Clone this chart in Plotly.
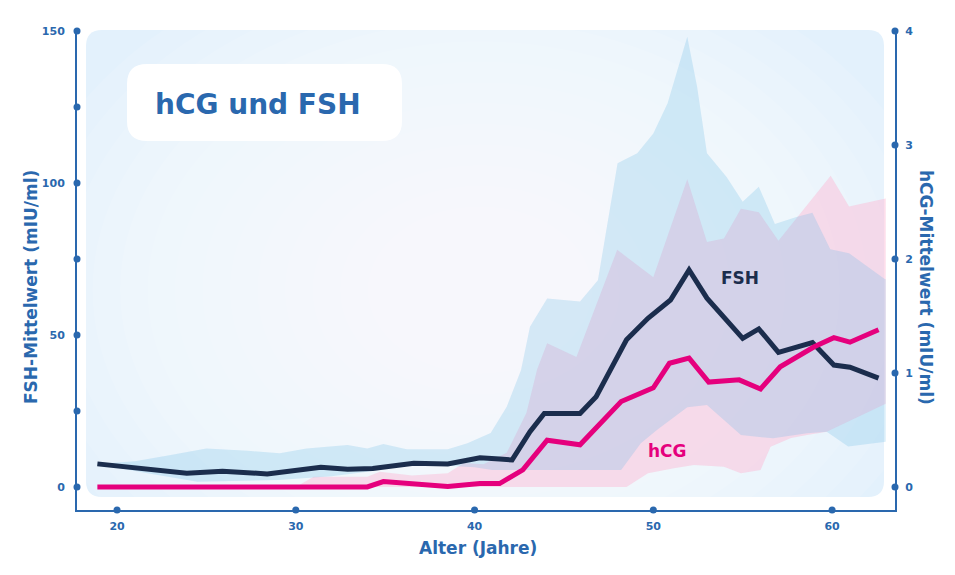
import plotly.graph_objects as go

# ---------------- data ----------------
FSH_AGE = [18.9, 21.5, 23.9, 25.9, 28.4, 31.4, 32.9, 34.3, 36.6, 38.5, 40.3, 41.4, 42.1,
           43.1, 43.9, 45.9, 46.8, 47.4, 48.5, 49.7, 50.96, 52.0, 53.0, 55.0, 55.9, 57.0,
           58.9, 60.1, 61.0, 62.6]
FSH_MEAN = [7.6, 6.0, 4.5, 5.2, 4.3, 6.5, 5.8, 6.1, 7.8, 7.6, 9.6, 9.2, 8.9,
            18.2, 24.2, 24.2, 29.7, 36.3, 48.4, 55.5, 61.5, 71.4, 62.1, 48.9, 52.0, 44.3,
            47.5, 40.1, 39.4, 35.8]

HCG_AGE = [18.9, 34.0, 34.9, 36.6, 38.5, 40.3, 41.4, 42.7, 44.06, 45.9, 48.2, 50.0, 50.9,
           52.0, 53.1, 54.8, 56.0, 57.1, 59.0, 60.1, 61.0, 62.6]
HCG_MEAN = [0.0, 0.0, 0.047, 0.03, 0.005, 0.03, 0.03, 0.15, 0.41, 0.37, 0.75, 0.87, 1.085,
            1.13, 0.92, 0.94, 0.86, 1.055, 1.23, 1.31, 1.27, 1.38]

FSH_UP_AGE = [18.9, 21, 23, 25, 27.3, 29.1, 30.6, 32.9, 34.0, 34.9, 36.2, 38.5, 39.6, 40.9,
              41.8, 42.6, 43.1, 44.06, 45.9, 46.9, 48.0, 49.1, 50.0, 50.8, 51.9, 52.45, 53.0,
              54.1, 55.0, 55.9, 56.8, 58.05, 58.9, 59.9, 60.95, 62.9, 63.0]
FSH_UP = [7.6, 8.5, 10.5, 12.7, 11.9, 11.1, 12.7, 13.8, 12.7, 14.1, 12.4, 12.4, 14.4, 17.8,
          26.4, 38.5, 52.7, 62.0, 61.0, 68.0, 106.5, 109.8, 116.3, 126.2, 148.1, 131.7, 109.8,
          102.0, 93.8, 98.8, 86.5, 88.9, 90.2, 78.2, 76.9, 68.6, 68.3]
FSH_LO_AGE = [18.9, 21.7, 24.5, 29, 32, 34, 36, 38.5, 40, 41, 48.2, 49.3, 50.2, 51.9, 53.0,
              54.9, 56.7, 58.6, 59.7, 60.9, 63.0]
FSH_LO = [7.6, 4.5, 1.7, 2.3, 3.5, 5.0, 7.0, 7.0, 6.5, 5.6, 5.6, 14.4, 18.75, 26.2, 27.0,
          17.1, 16.0, 17.7, 18.2, 13.3, 14.9]

HCG_UP_AGE = [30.0, 31.0, 34.0, 34.7, 36.5, 38.5, 39.4, 40.5, 41.8, 42.9, 43.5, 44.06, 45.7,
              47.98, 50.0, 51.9, 53.0, 53.95, 54.9, 55.9, 57.0, 59.92, 60.95, 63.0]
HCG_UP = [0.0, 0.09, 0.09, 0.134, 0.10, 0.12, 0.21, 0.20, 0.30, 0.65, 1.03, 1.26, 1.14,
          2.08, 1.84, 2.70, 2.15, 2.18, 2.44, 2.41, 2.16, 2.73, 2.46, 2.53]
HCG_LO_AGE = [30.0, 48.5, 49.7, 51.15, 52.27, 53.95, 54.9, 56.0, 56.56, 57.7, 58.6, 59.7, 63.0]
HCG_LO = [0.0, 0.0, 0.12, 0.164, 0.193, 0.178, 0.12, 0.15, 0.354, 0.43, 0.456, 0.485, 0.73]

X_TICKS = [20, 30, 40, 50, 60]
FSH_TICKS = [0, 50, 100, 150]
FSH_DOTS = [0, 25, 50, 75, 100, 125, 150]
HCG_TICKS = [0, 1, 2, 3, 4]

# ---------------- axes setup ----------------
X_RANGE = [17.76, 63.52]
FSH_RANGE = [-7.57, 150]
HCG_MAX = 4
SCALE = FSH_RANGE[1] / HCG_MAX          # hCG units -> FSH axis units
HCG_RANGE = [FSH_RANGE[0] / SCALE, HCG_MAX]

BLUE = "#2a68ae"
NAVY = "#1b2d4d"
MAGENTA = "#e5007d"
FONT = "DejaVu Sans"

W, H = 955, 575
ML, MR, MT, MB = 77, 60, 31, 65
PW, PH = W - ML - MR, H - MT - MB


def px(x):
    return (x - ML) / PW


def py(y):
    return (H - MB - y) / PH


def rrect(x0, y0, x1, y1, r):
    X0, X1, Y0, Y1 = px(x0), px(x1), py(y0), py(y1)
    rx, ry = r / PW, r / PH
    return (f"M {X0+rx},{Y0} L {X1-rx},{Y0} Q {X1},{Y0} {X1},{Y0-ry} "
            f"L {X1},{Y1+ry} Q {X1},{Y1} {X1-rx},{Y1} L {X0+rx},{Y1} "
            f"Q {X0},{Y1} {X0},{Y1+ry} L {X0},{Y0-ry} Q {X0},{Y0} {X0+rx},{Y0} Z")


fig = go.Figure()

# hCG band (converted to FSH axis units so layering matches)
fig.add_trace(go.Scatter(
    x=HCG_UP_AGE + HCG_LO_AGE[::-1],
    y=[v * SCALE for v in HCG_UP + HCG_LO[::-1]],
    fill="toself", fillcolor="rgba(252,190,215,0.5)", mode="none",
    hoverinfo="skip", showlegend=False))
# FSH band
fig.add_trace(go.Scatter(
    x=FSH_UP_AGE + FSH_LO_AGE[::-1], y=FSH_UP + FSH_LO[::-1],
    fill="toself", fillcolor="rgba(99,186,232,0.24)", mode="none",
    hoverinfo="skip", showlegend=False))
# FSH mean line
fig.add_trace(go.Scatter(
    x=FSH_AGE, y=FSH_MEAN, mode="lines", line=dict(color=NAVY, width=5),
    name="FSH", showlegend=False))
# hCG mean line
fig.add_trace(go.Scatter(
    x=HCG_AGE, y=[v * SCALE for v in HCG_MEAN], mode="lines",
    line=dict(color=MAGENTA, width=5), name="hCG", showlegend=False))

# tick dots
fig.add_trace(go.Scatter(x=X_TICKS, y=[FSH_RANGE[0]] * len(X_TICKS), mode="markers",
                         marker=dict(color=BLUE, size=7), cliponaxis=False,
                         hoverinfo="skip", showlegend=False))
fig.add_trace(go.Scatter(x=[X_RANGE[0]] * len(FSH_DOTS), y=FSH_DOTS, mode="markers",
                         marker=dict(color=BLUE, size=7), cliponaxis=False,
                         hoverinfo="skip", showlegend=False))
fig.add_trace(go.Scatter(x=[X_RANGE[1]] * len(HCG_TICKS), y=HCG_TICKS, yaxis="y2",
                         mode="markers", marker=dict(color=BLUE, size=7),
                         cliponaxis=False, hoverinfo="skip", showlegend=False))

shapes = [dict(type="path", xref="paper", yref="paper", layer="below",
               path=rrect(86, 30, 884, 497, 16), fillcolor="#e3f1fc", line=dict(width=0))]
# soft radial glow
cx, cy = 480, 290
n = 16
for i in range(n):
    f = 1 - i / n
    rxp, ryp = 440 * f + 30, 330 * f + 22
    shapes.append(dict(type="circle", xref="paper", yref="paper", layer="below",
                       x0=px(cx - rxp), x1=px(cx + rxp), y0=py(cy + ryp), y1=py(cy - ryp),
                       fillcolor="white", opacity=0.11, line=dict(width=0)))
# title box
shapes.append(dict(type="path", xref="paper", yref="paper", layer="below",
                   path=rrect(127, 64, 402, 141, 20), fillcolor="white", line=dict(width=0)))

annotations = [
    dict(text="<b>hCG und FSH</b>", xref="paper", yref="paper", x=px(153), y=py(104),
         xanchor="left", yanchor="middle", showarrow=False,
         font=dict(family=FONT, size=28, color=BLUE)),
    dict(text="<b>FSH-Mittelwert (mIU/ml)</b>", xref="paper", yref="paper",
         x=px(31), y=py(287), textangle=-90, showarrow=False,
         xanchor="center", yanchor="middle",
         font=dict(family=FONT, size=17, color=BLUE)),
    dict(text="<b>hCG-Mittelwert (mIU/ml)</b>", xref="paper", yref="paper",
         x=px(926), y=py(287), textangle=90, showarrow=False,
         xanchor="center", yanchor="middle",
         font=dict(family=FONT, size=17, color=BLUE)),
    dict(text="<b>Alter (Jahre)</b>", xref="paper", yref="paper",
         x=px(478), y=py(548), showarrow=False, xanchor="center", yanchor="middle",
         font=dict(family=FONT, size=17, color=BLUE)),
    dict(text="<b>FSH</b>", x=54.85, y=68.75, showarrow=False,
         font=dict(family=FONT, size=17, color=NAVY)),
    dict(text="<b>hCG</b>", x=50.77, y=11.8, showarrow=False,
         font=dict(family=FONT, size=17, color=MAGENTA)),
]

fig.update_layout(
    width=W, height=H, margin=dict(l=ML, r=MR, t=MT, b=MB),
    paper_bgcolor="white", plot_bgcolor="rgba(0,0,0,0)",
    shapes=shapes, annotations=annotations, showlegend=False,
    xaxis=dict(range=X_RANGE, tickvals=X_TICKS, showgrid=False, zeroline=False,
               showline=True, linecolor=BLUE, linewidth=2, ticks="",
               ticklabelstandoff=5,
               tickfont=dict(family=FONT, size=11, color=BLUE, weight="bold")),
    yaxis=dict(range=FSH_RANGE, tickvals=FSH_TICKS, showgrid=False, zeroline=False,
               showline=True, linecolor=BLUE, linewidth=2, ticks="",
               ticklabelstandoff=8,
               tickfont=dict(family=FONT, size=11, color=BLUE, weight="bold")),
    yaxis2=dict(range=HCG_RANGE, tickvals=HCG_TICKS, overlaying="y", side="right",
                showgrid=False, zeroline=False, showline=True, linecolor=BLUE,
                linewidth=2, ticks="", ticklabelstandoff=6,
                tickfont=dict(family=FONT, size=11, color=BLUE, weight="bold")),
)

fig.write_html("out.html")
